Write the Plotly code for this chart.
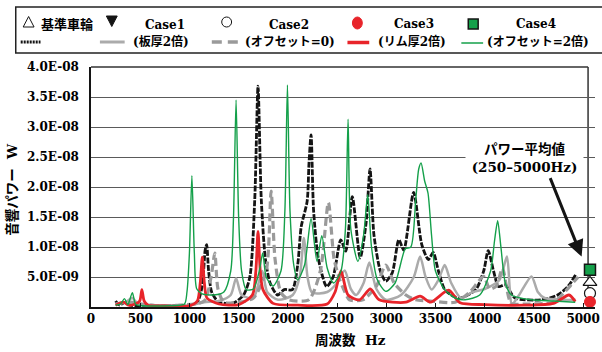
import plotly.graph_objects as go

# ---------------- data ----------------
# 基準車輪 (black dotted)
freq_base = [250, 290, 350, 400, 600, 1000, 1080, 1130, 1160, 1175, 1195, 1228, 1300, 1450, 1550,
             1614, 1664, 1697, 1730, 1772, 1820, 1896, 1963, 2046, 2100, 2136, 2196, 2215, 2236,
             2262, 2312, 2395, 2460, 2538, 2588, 2655, 2735, 2795, 2835, 2875, 2940, 2995, 3061,
             3128, 3178, 3278, 3361, 3428, 3477, 3530, 3594, 3693, 3760, 3910, 3990, 4036, 4090,
             4142, 4209, 4309, 4575, 4741, 4850, 4924]
pow_base = [1.0e-9, 0.3e-9, 0.8e-9, 0.3e-9, 0.3e-9, 0.3e-9, 0.8e-9, 3.5e-9, 9.5e-9, 10.4e-9, 6.0e-9,
            2.4e-9, 0.8e-9, 0.7e-9, 2.0e-9, 5.0e-9, 18.0e-9, 36.8e-9, 18.0e-9, 8.0e-9, 4.0e-9,
            2.0e-9, 2.9e-9, 2.9e-9, 7.0e-9, 13.4e-9, 17.6e-9, 24.0e-9, 28.7e-9, 16.0e-9, 7.9e-9,
            3.4e-9, 5.0e-9, 11.2e-9, 9.3e-9, 18.4e-9, 8.2e-9, 14.0e-9, 23.0e-9, 12.0e-9, 6.0e-9,
            4.3e-9, 5.7e-9, 11.2e-9, 9.5e-9, 19.1e-9, 10.4e-9, 7.9e-9, 9.1e-9, 6.0e-9, 2.9e-9,
            1.7e-9, 1.5e-9, 2.9e-9, 6.0e-9, 9.4e-9, 6.0e-9, 3.4e-9, 3.7e-9, 1.5e-9, 1.2e-9,
            2.0e-9, 3.5e-9, 5.4e-9]

# Case1 (板厚2倍) gray solid
freq_c1 = [250, 350, 420, 480, 700, 1000, 1150, 1300, 1420, 1474, 1530, 1650, 1740, 1790, 1900,
           2050, 2120, 2163, 2200, 2246, 2400, 2500, 2578, 2640, 2695, 2770, 2828, 2900, 2995,
           3150, 3280, 3344, 3400, 3461, 3530, 3594, 3660, 3760, 3877, 4000, 4150, 4226, 4255,
           4276, 4350, 4476, 4540, 4608, 4800, 4924]
pow_c1 = [0.5e-9, 0.8e-9, 1.5e-9, 0.5e-9, 0.3e-9, 0.3e-9, 0.8e-9, 1.0e-9, 2.0e-9, 4.8e-9, 2.0e-9,
          1.5e-9, 6.0e-9, 2.5e-9, 1.2e-9, 2.0e-9, 5.0e-9, 11.5e-9, 5.0e-9, 2.4e-9, 2.5e-9, 4.0e-9,
          6.1e-9, 3.0e-9, 2.0e-9, 4.0e-9, 7.4e-9, 3.0e-9, 1.2e-9, 2.0e-9, 5.0e-9, 8.4e-9, 5.0e-9,
          2.9e-9, 4.5e-9, 7.0e-9, 4.0e-9, 1.5e-9, 2.5e-9, 3.0e-9, 4.5e-9, 8.4e-9, 3.0e-9, 0.4e-9,
          2.0e-9, 5.1e-9, 2.5e-9, 1.5e-9, 1.2e-9, 1.2e-9]

# Case2 (オフセット=0) gray dashed
freq_c2 = [250, 400, 600, 900, 1150, 1220, 1258, 1290, 1350, 1500, 1650, 1780, 1830, 1870, 1930,
           2013, 2213, 2330, 2412, 2470, 2528, 2580, 2625, 2762, 2900, 2995, 3080, 3200, 3300,
           3450, 3700, 3850, 3990, 4050, 4120, 4180, 4270, 4400, 4700, 4807, 4890, 4950]
pow_c2 = [0.5e-9, 0.8e-9, 0.3e-9, 0.3e-9, 1.0e-9, 5.0e-9, 9.0e-9, 3.0e-9, 0.8e-9, 0.8e-9, 1.5e-9,
          6.0e-9, 19.3e-9, 8.0e-9, 2.4e-9, 1.2e-9, 1.2e-9, 6.0e-9, 17.4e-9, 8.0e-9, 4.5e-9, 2.5e-9,
          1.2e-9, 1.2e-9, 3.5e-9, 7.0e-9, 4.0e-9, 2.0e-9, 1.2e-9, 1.0e-9, 0.8e-9, 2.5e-9, 5.1e-9,
          3.0e-9, 3.5e-9, 6.5e-9, 0.6e-9, 0.5e-9, 0.8e-9, 2.4e-9, 3.9e-9, 5.0e-9]

# Case3 (リム厚2倍) red
freq_c3 = [250, 330, 380, 450, 495, 517, 540, 580, 700, 1000, 1080, 1110, 1131, 1152, 1178, 1300,
           1500, 1640, 1675, 1697, 1720, 1747, 1850, 2100, 2400, 2480, 2540, 2612, 2728, 2838,
           2928, 3200, 3344, 3450, 3634, 3750, 4000, 4400, 4700, 4857, 4920]
pow_c3 = [0.3e-9, 0.8e-9, 0.3e-9, 0.5e-9, 1.0e-9, 2.9e-9, 1.0e-9, 0.3e-9, 0.2e-9, 0.2e-9, 1.0e-9,
          4.0e-9, 8.3e-9, 4.0e-9, 1.5e-9, 0.5e-9, 0.4e-9, 2.0e-9, 6.0e-9, 12.6e-9, 6.0e-9, 2.9e-9,
          0.6e-9, 0.3e-9, 0.5e-9, 2.5e-9, 6.0e-9, 2.0e-9, 1.2e-9, 3.0e-9, 1.2e-9, 0.8e-9, 1.8e-9,
          0.8e-9, 2.8e-9, 0.7e-9, 0.4e-9, 0.3e-9, 0.6e-9, 2.0e-9, 0.9e-9]

# Case4 (オフセット=2倍) green
freq_c4 = [250, 300, 340, 375, 420, 455, 520, 800, 950, 975, 1000, 1025, 1050, 1075, 1130, 1250,
           1350, 1420, 1448, 1474, 1500, 1530, 1577, 1650, 1710, 1745, 1780, 1850, 1930, 1970,
           1996, 2022, 2060, 2100, 2170, 2236, 2296, 2345, 2400, 2465, 2540, 2585, 2612, 2640,
           2712, 2770, 2812, 2850, 2910, 2995, 3090, 3194, 3250, 3300, 3330, 3354, 3390, 3424,
           3460, 3500, 3594, 3700, 3800, 3950, 4060, 4100, 4132, 4165, 4210, 4272, 4471, 4700, 4920]
pow_c4 = [0.3e-9, 0.5e-9, 1.4e-9, 0.4e-9, 2.4e-9, 0.4e-9, 0.2e-9, 0.2e-9, 0.5e-9, 2.5e-9, 9.0e-9,
          21.9e-9, 9.0e-9, 3.0e-9, 2.2e-9, 2.0e-9, 2.5e-9, 6.0e-9, 15.0e-9, 34.5e-9, 15.0e-9,
          6.0e-9, 2.9e-9, 3.0e-9, 6.0e-9, 9.0e-9, 5.0e-9, 3.5e-9, 6.0e-9, 16.0e-9, 37.0e-9,
          16.0e-9, 7.0e-9, 4.5e-9, 7.0e-9, 14.7e-9, 7.6e-9, 11.9e-9, 6.5e-9, 4.0e-9, 6.0e-9,
          13.0e-9, 31.3e-9, 13.0e-9, 7.6e-9, 12.0e-9, 18.7e-9, 10.0e-9, 4.5e-9, 2.6e-9, 4.0e-9,
          9.7e-9, 10.0e-9, 18.0e-9, 23.0e-9, 24.0e-9, 21.0e-9, 19.0e-9, 12.0e-9, 6.0e-9, 2.9e-9,
          1.5e-9, 1.2e-9, 2.0e-9, 6.0e-9, 11.0e-9, 14.4e-9, 10.0e-9, 4.0e-9, 2.0e-9, 1.2e-9,
          1.0e-9, 0.8e-9]

# power averages (250-5000Hz), drawn at the right edge
avg_x = 5070
avg_base, avg_c1, avg_c2, avg_c3, avg_c4 = 4.1e-9, 2.3e-9, 2.3e-9, 0.85e-9, 6.2e-9

x_ticks = list(range(0, 5001, 500))
y_ticks = [5e-9, 1e-8, 1.5e-8, 2e-8, 2.5e-8, 3e-8, 3.5e-8, 4e-8]
y_ticktext = ["5.0E-09", "1.0E-08", "1.5E-08", "2.0E-08", "2.5E-08", "3.0E-08", "3.5E-08", "4.0E-08"]

names = ["基準車輪", "Case1 (板厚2倍)", "Case2 (オフセット=0)", "Case3 (リム厚2倍)", "Case4 (オフセット=2倍)"]

# ---------------- styles ----------------
BLACK = "#141414"
GRAY1 = "#ababab"
GRAY2 = "#9a9a9a"
RED = "#e8242a"
GREEN = "#14a04a"
FONT = "DejaVu Serif, Noto Sans CJK JP, sans-serif"

W, H = 602, 352
L, PR, T, B = 91, 600, 67, 307   # plot area in pixels
BORDER = 593                      # visible right frame line
X_MAX = 5121                      # so that 5000 Hz sits at x=588 px


def px(xp):
    return (xp - L) / (PR - L)


def py(yp):
    return (B - yp) / (B - T)


fig = go.Figure()
line_specs = [
    (freq_base, pow_base, dict(color=BLACK, width=2.8, dash="6px,1.5px")),
    (freq_c1, pow_c1, dict(color=GRAY1, width=2.5)),
    (freq_c2, pow_c2, dict(color=GRAY2, width=3.2, dash="8px,4px")),
    (freq_c3, pow_c3, dict(color=RED, width=2.8)),
    (freq_c4, pow_c4, dict(color=GREEN, width=1.4)),
]
for (fx, fy, ln), nm in zip(line_specs, names):
    fig.add_trace(go.Scatter(x=fx, y=fy, mode="lines", name=nm,
                             line=dict(shape="spline", smoothing=0.7, **ln),
                             showlegend=False, hoverinfo="x+y+name"))

marker_specs = [
    (avg_base, dict(symbol="triangle-up", size=12, color="white", line=dict(color=BLACK, width=1.2))),
    (avg_c1, dict(symbol="triangle-down", size=9, color=BLACK, line=dict(color=BLACK, width=1))),
    (avg_c2, dict(symbol="circle", size=11, color="white", line=dict(color=BLACK, width=1.2))),
    (avg_c3, dict(symbol="circle", size=11, color=RED, line=dict(color=RED, width=1))),
    (avg_c4, dict(symbol="square", size=11, color=GREEN, line=dict(color=BLACK, width=1.5))),
]
for (v, mk), nm in zip(marker_specs, names):
    fig.add_trace(go.Scatter(x=[avg_x], y=[v], mode="markers", marker=mk, name=nm + " 平均",
                             cliponaxis=False, showlegend=False))

# ---------------- frame + legend (decoration) ----------------
shapes = []
shapes.append(dict(type="rect", xref="paper", yref="paper", x0=px(BORDER + 0.5), x1=px(PR + 2),
                   y0=py(B - 1), y1=py(T - 2), fillcolor="white", line=dict(width=0), layer="between"))
shapes.append(dict(type="line", xref="paper", yref="paper", x0=px(L), x1=px(BORDER), y0=1, y1=1,
                   line=dict(color="#333", width=1.5), layer="between"))
shapes.append(dict(type="line", xref="paper", yref="paper", x0=px(BORDER), x1=px(BORDER), y0=0, y1=1,
                   line=dict(color="#333", width=1.5), layer="between"))

shapes.append(dict(type="rect", xref="paper", yref="paper", x0=px(15), x1=px(640), y0=py(53), y1=py(7),
                   line=dict(color="#222", width=1.5), fillcolor="rgba(0,0,0,0)", layer="above"))
# symbols
shapes.append(dict(type="path", xref="paper", yref="paper",
                   path=f"M {px(28)} {py(16.5)} L {px(22.5)} {py(27)} L {px(33.5)} {py(27)} Z",
                   fillcolor="white", line=dict(color=BLACK, width=1)))
shapes.append(dict(type="path", xref="paper", yref="paper",
                   path=f"M {px(106.5)} {py(16)} L {px(117.5)} {py(16)} L {px(112)} {py(26.5)} Z",
                   fillcolor=BLACK, line=dict(color=BLACK, width=1)))
shapes.append(dict(type="circle", xref="paper", yref="paper", x0=px(223), x1=px(233), y0=py(27), y1=py(17),
                   fillcolor="white", line=dict(color=BLACK, width=1)))
shapes.append(dict(type="circle", xref="paper", yref="paper", x0=px(355), x1=px(365), y0=py(29), y1=py(17),
                   fillcolor=RED, line=dict(color=RED, width=1)))
shapes.append(dict(type="rect", xref="paper", yref="paper", x0=px(472), x1=px(482), y0=py(29), y1=py(19),
                   fillcolor=GREEN, line=dict(color=BLACK, width=1.5)))
# lines
leg_lines = [
    (20, 40, 42, dict(color=BLACK, width=3, dash="2px,1px")),
    (100, 125, 42, dict(color=GRAY1, width=3)),
    (213, 245, 42, dict(color=GRAY2, width=3.5, dash="10px,6px")),
    (350, 372, 42.5, dict(color=RED, width=3.5)),
    (465, 487, 43, dict(color=GREEN, width=1.5)),
]
for x0, x1, yy, ln in leg_lines:
    shapes.append(dict(type="line", xref="paper", yref="paper", x0=px(x0), x1=px(x1), y0=py(yy), y1=py(yy),
                       line=ln))

ann = []


def text(s, x, y, size=12, **kw):
    d = dict(text=s, xref="paper", yref="paper", x=px(x), y=py(y), showarrow=False,
             font=dict(family=FONT, size=size, color="black", weight="bold"),
             xanchor="center", yanchor="middle")
    d.update(kw)
    ann.append(d)


text("基準車輪", 67, 25, size=13)
text("Case1", 166, 25)
text("(板厚2倍)", 162, 42)
text("Case2", 291, 25)
text("(オフセット=0)", 292, 42)
text("Case3", 417, 24)
text("(リム厚2倍)", 415, 42)
text("Case4", 540, 24)
text("(オフセット=2倍)", 542, 42)

# axis titles
text("音響パワー  W", 11, 189, size=13.5, textangle=-90)
text("周波数  Hz", 353, 340, size=13.5)

# callout
text("パワー平均値<br>(250–5000Hz)", 529, 158, size=13.5, bgcolor="white", width=115, height=44)
ann.append(dict(x=4985, y=8.4e-9, xref="x", yref="y", ax=-32, ay=-80, text="", showarrow=True,
                arrowhead=2, arrowsize=1.1, arrowwidth=3, arrowcolor=BLACK))

fig.update_layout(
    width=W, height=H,
    margin=dict(l=L, r=W - PR, t=T, b=H - B, pad=0),
    paper_bgcolor="white", plot_bgcolor="white",
    shapes=shapes, annotations=ann,
    showlegend=False,
    xaxis=dict(range=[0, X_MAX], tickvals=x_ticks, ticks="inside", ticklen=4, tickcolor=BLACK,
               showline=True, linecolor=BLACK, linewidth=1.5, mirror=False, showgrid=False,
               zeroline=False, ticklabeloverflow="allow",
               tickfont=dict(family=FONT, size=12, color="black", weight="bold")),
    yaxis=dict(range=[0, 4e-8], tickvals=y_ticks, ticktext=y_ticktext, ticks="",
               showgrid=True, gridcolor="#5a5a5a", gridwidth=1.2, showline=True, linecolor=BLACK,
               linewidth=1.5, mirror=False, zeroline=False, ticklabelstandoff=8,
               tickfont=dict(family=FONT, size=12, color="black", weight="bold")),
)

fig.write_html("out.html", config={"displayModeBar": False},
               post_script="document.body.style.margin='0';")
